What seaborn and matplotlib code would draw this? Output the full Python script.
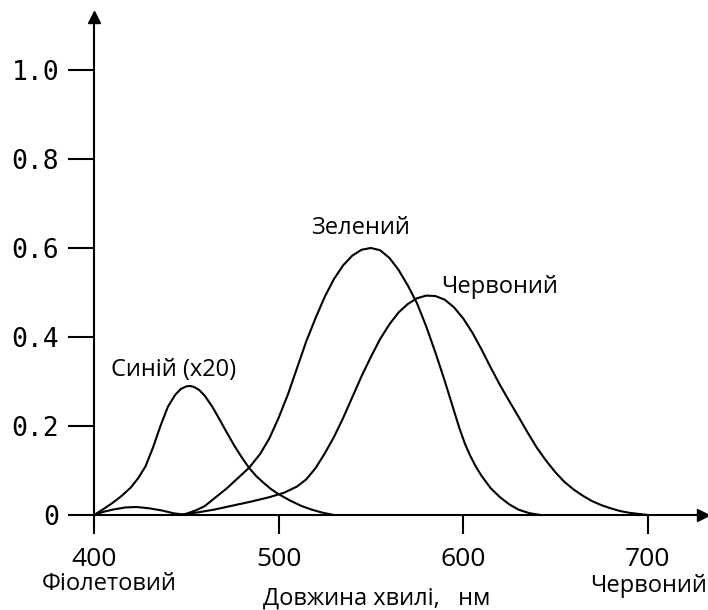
import pandas as pd
import matplotlib.pyplot as plt
import seaborn as sns

sns.set_theme(style="ticks")
plt.rcParams["font.family"] = ["Open Sans", "DejaVu Sans"]
plt.rcParams["text.color"] = "black"
plt.rcParams["lines.solid_joinstyle"] = "round"

# Sensitivity curves (wavelength in nm, relative value)
blue_nm = [400, 405, 410, 415, 420, 424, 428, 432, 436, 440, 444, 447, 450, 452,
           454, 457, 460, 464, 468, 472, 476, 480, 484, 488, 492, 496, 500, 506,
           512, 518, 524, 530]
blue_val = [0.0, 0.013, 0.027, 0.043, 0.062, 0.083, 0.11, 0.152, 0.2, 0.243,
            0.27, 0.283, 0.289, 0.29, 0.288, 0.281, 0.268, 0.244, 0.215, 0.185,
            0.156, 0.13, 0.106, 0.087, 0.072, 0.058, 0.047, 0.033, 0.021, 0.012,
            0.005, 0.0]

bump_nm = [400, 405, 410, 417, 423, 430, 437, 443, 450]
bump_val = [0.0, 0.007, 0.012, 0.017, 0.018, 0.015, 0.01, 0.004, 0.0]

green_nm = [448, 455, 460, 466, 472, 478, 484, 490, 495, 500, 505, 510, 515, 520,
            525, 530, 535, 540, 545, 550, 555, 560, 565, 570, 575, 580, 585, 590,
            595, 598, 601, 604, 607, 610, 615, 620, 625, 630, 636, 642]
green_val = [0.0, 0.01, 0.02, 0.04, 0.06, 0.083, 0.106, 0.137, 0.172, 0.218,
             0.27, 0.33, 0.39, 0.442, 0.49, 0.53, 0.561, 0.583, 0.596, 0.6, 0.595,
             0.578, 0.551, 0.516, 0.476, 0.424, 0.365, 0.302, 0.235, 0.195, 0.16,
             0.132, 0.108, 0.088, 0.06, 0.04, 0.024, 0.012, 0.004, 0.0]

red_nm = [446, 455, 465, 475, 485, 495, 503, 510, 515, 520, 525, 530, 535, 540,
          545, 550, 555, 560, 565, 570, 575, 580, 585, 590, 595, 600, 605, 610,
          615, 620, 625, 630, 635, 640, 645, 650, 655, 660, 665, 670, 675, 680,
          685, 690, 696, 700]
red_val = [0.0, 0.005, 0.012, 0.021, 0.03, 0.04, 0.05, 0.064, 0.08, 0.105, 0.138,
           0.175, 0.218, 0.265, 0.312, 0.355, 0.395, 0.428, 0.455, 0.474, 0.487,
           0.493, 0.492, 0.484, 0.467, 0.442, 0.41, 0.372, 0.331, 0.292, 0.256,
           0.221, 0.185, 0.151, 0.122, 0.096, 0.074, 0.057, 0.043, 0.031, 0.022,
           0.015, 0.009, 0.005, 0.002, 0.0]

x_ticks = [400, 500, 600, 700]
y_ticks = [0, 0.2, 0.4, 0.6, 0.8, 1.0]
y_tick_labels = ["0", "0.2", "0.4", "0.6", "0.8", "1.0"]

fig = plt.figure(figsize=(7.08, 6.10), dpi=100)
ax = fig.add_axes([94 / 708, 95 / 610, 609 / 708, 498 / 610])

for xs, ys in [(bump_nm, bump_val), (blue_nm, blue_val),
               (green_nm, green_val), (red_nm, red_val)]:
    sns.lineplot(x=xs, y=ys, ax=ax, color="black", linewidth=1.5)

ax.set_xlim(400, 730)
ax.set_ylim(0, 1.119)
ax.set_xticks(x_ticks)
ax.set_xticklabels([str(t) for t in x_ticks], fontsize=19, color="black")
ax.set_yticks(y_ticks)
ax.set_yticklabels(y_tick_labels, fontsize=19, family="DejaVu Sans Mono", color="black")
ax.tick_params(axis="y", length=19, width=1.5, pad=6, colors="black")
ax.tick_params(axis="x", length=14, width=1.5, pad=9, colors="black")

sns.despine(ax=ax)
for side in ["left", "bottom"]:
    ax.spines[side].set_linewidth(1.5)
    ax.spines[side].set_color("black")

# arrow heads on the axes
ax.plot(1, 0, ">", color="black", ms=8, transform=ax.get_yaxis_transform(), clip_on=False)
ax.plot(400, 1, "^", color="black", ms=8, transform=ax.get_xaxis_transform(), clip_on=False)

ax.set_xlabel("")
ax.set_ylabel("")

# curve labels
ax.text(443, 0.326, "Синій (x20)", fontsize=17, ha="center", va="center")
ax.text(544.6, 0.645, "Зелений", fontsize=17, ha="center", va="center")
ax.text(619.7, 0.512, "Червоний", fontsize=17, ha="center", va="center")

# texts under the axis
fig.text(0.154, 0.042, "Фіолетовий", fontsize=17, ha="center", va="center")
fig.text(0.532, 0.018, "Довжина хвилі,   нм", fontsize=17, ha="center", va="center")
fig.text(0.999, 0.040, "Червоний", fontsize=17, ha="right", va="center")

fig.savefig("out.png", dpi=100)
